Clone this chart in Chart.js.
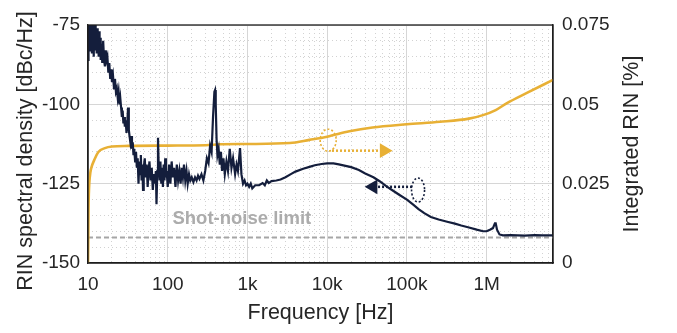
<!DOCTYPE html>
<html>
<head>
<meta charset="utf-8">
<script src="https://cdn.jsdelivr.net/npm/chart.js@4.4.1/dist/chart.umd.min.js"></script>
<style>
  html, body { margin: 0; padding: 0; background: #fff; }
  #wrap { width: 677px; height: 333px; }
</style>
</head>
<body>
<div id="wrap"><canvas id="c" width="677" height="333"></canvas></div>
<script>
// RIN spectral density
const rinFreq = [
  10, 10.15, 10.3, 10.45, 10.6, 10.75, 10.9, 11.05, 11.2, 11.35, 11.5, 11.65, 11.8, 11.95, 12.1, 12.25, 12.4, 12.55, 12.7, 12.85,
  13.0, 13.15, 13.3, 13.45, 13.6, 13.75, 13.9, 14.05, 14.2, 14.35, 14.5, 14.65, 14.8, 15.1, 15.5, 15.9,
  16.3, 16.7, 17.1, 17.5, 18, 18.5, 19, 19.5, 20, 20.6, 21.2, 21.8, 22.4, 23, 23.6, 24.2, 24.8, 25.4, 26, 26.6,
  27.2, 27.8, 28.4, 29, 29.7, 30.4, 31.1, 31.8, 32.5, 33.2, 34, 34.8, 35.6, 36.4, 37.2, 38, 39, 40, 41, 42,
  43, 44, 45, 46, 47, 48, 49, 50, 51.5, 53, 54.5, 56, 57.5, 59, 61, 63, 65, 67, 69, 71,
  72.3, 74, 75.5, 77, 79, 81, 83, 85, 87, 89, 91, 93, 95, 97, 100, 104, 108, 112, 116, 120,
  125, 130, 135, 140, 145, 150, 155, 160, 166, 172, 178, 185, 192, 200, 210, 220, 230, 240, 250, 265,
  280, 295, 310, 325, 340, 355, 370, 385, 392, 400, 410, 420, 435, 450, 465, 480, 500, 520, 545, 570,
  600, 630, 660, 700, 730, 760, 807, 840, 880, 920, 960, 1000, 1050, 1100, 1150, 1250, 1400, 1550, 1650, 1750,
  1850, 2000, 2300, 2600, 3000, 3500, 4000, 5000, 6000, 7000, 8500, 10000, 12000, 14000, 17000, 20000, 25000, 30000, 38000, 46000,
  55000, 65000, 80000, 100000, 120000, 140000, 165000, 200000, 250000, 320000, 400000, 480000, 600000, 750000, 900000, 1000000, 1100000, 1200000, 1270000, 1300000,
  1350000, 1450000, 1600000, 2000000, 3000000, 4000000, 5000000, 6800000
];
const rinDb = [
  -86, -75, -80, -76, -83, -75, -79, -76, -84, -75, -81, -77, -85, -76, -80, -75, -83, -78, -76, -84,
  -79, -76, -82, -78, -85, -77, -80, -84, -79, -86, -80, -85, -81, -87, -80, -86,
  -88, -83, -86, -85, -90, -87, -92, -89, -93, -91, -95, -92, -96, -95, -98, -96, -100, -98, -101, -104,
  -102, -106, -104, -107, -105, -109, -106, -101, -108, -110, -112, -110, -114, -112, -116, -114, -118, -115, -120, -117,
  -125, -118, -122, -116, -124, -119, -127, -120, -117, -123, -119, -126, -121, -118, -124, -120, -127, -122, -125, -121,
  -131.5, -121, -110.5, -119, -124, -118, -125, -120, -126, -119, -124, -117, -123, -121, -126, -119, -125, -118, -123, -120,
  -126, -119, -124, -121, -125, -120, -123, -119, -124, -121, -125, -122, -124, -123, -124.5, -123, -124, -122.5, -123.5, -122,
  -124, -121, -117, -118.5, -113, -115, -104, -96, -95.5, -100, -111, -116, -114, -119, -115, -121, -117, -122, -118, -121,
  -114, -120, -117, -122, -119, -121, -113.8, -122, -125, -124, -125.5, -125, -126, -125, -126.5, -125.5, -125.5, -124.8, -125.5, -124,
  -124.8, -124.2, -124, -123.7, -123, -122, -121.2, -120.3, -119.7, -119.2, -118.8, -118.6, -118.6, -118.9, -119.4, -119.8, -120.7, -121.8, -123, -124.3,
  -125.8, -127, -128.5, -130, -131.6, -133, -134.3, -135.5, -136.3, -137, -137.6, -138.2, -138.8, -139.5, -140, -140, -139.5, -139, -137.5, -137.5,
  -139.5, -141, -141.3, -141.2, -141.4, -141.2, -141.3, -141.3
];

// integrated RIN (%), right axis
const intFreq = [10, 10.08, 10.15, 10.25, 10.4, 10.7, 11.1, 12, 13.5, 16.3, 20, 32, 100, 300, 450, 1000, 3400, 6000, 10000,
  19000, 37000, 100000, 260000, 600000, 900000, 1300000, 1800000, 3200000, 6800000];
const intPct = [0, 0.008, 0.017, 0.022, 0.0255, 0.0285, 0.0303, 0.0325, 0.035, 0.0362, 0.0367, 0.0369, 0.037, 0.0371, 0.0374, 0.0375, 0.0378, 0.0388, 0.0398,
  0.0415, 0.0427, 0.0437, 0.0445, 0.0455, 0.0466, 0.0482, 0.0504, 0.0536, 0.0577];

// shot-noise floor
const shotFreq = [10, 6800000];
const shotDb = [-142, -142];
const shotLabel = 'Shot-noise limit';
const shotLabelFreq = 850;
const shotLabelDb = -136.2;

// annotation rings and arrows (which curve belongs to which axis)
const ringFreq = [10300, 138000];
const ringLevel = [0.0387, -127];
const arrowYellowFreq = [11500, 51800];
const arrowYellowLevel = [0.0354, 0.0354];
const arrowNavyFreq = [116000, 37700];
const arrowNavyLevel = [-126, -126];

// axes
const xMin = 10, xMax = 6800000;
const xTickVals = [10, 100, 1000, 10000, 100000, 1000000];
const xTickLabels = ['10', '100', '1k', '10k', '100k', '1M'];
const xMinorVals = [20, 30, 40, 50, 60, 70, 80, 90, 200, 300, 400, 500, 600, 700, 800, 900,
  2000, 3000, 4000, 5000, 6000, 7000, 8000, 9000, 20000, 30000, 40000, 50000, 60000, 70000, 80000, 90000,
  200000, 300000, 400000, 500000, 600000, 700000, 800000, 900000, 2000000, 3000000, 4000000, 5000000, 6000000];
const yTickVals = [-150, -125, -100, -75];
const yMinorVals = [-145, -140, -135, -130, -120, -115, -110, -105, -95, -90, -85, -80];
const y2TickVals = [0, 0.025, 0.05, 0.075];
const y2TickLabels = ['0', '0.025', '0.05', '0.075'];

const xTitle = 'Frequency [Hz]';
const yTitle = 'RIN spectral density [dBc/Hz]';
const y2Title = 'Integrated RIN [%]';

const navy = '#141e3c';
const yellow = '#e8b035';
const textCol = '#262626';
const fontFam = '"Liberation Sans", Arial, Helvetica, sans-serif';

function pts(xs, ys) {
  return xs.map((x, i) => ({ x: x, y: ys[i] }));
}

const extras = {
  id: 'extras',
  afterDatasetsDraw(chart) {
    const { ctx, chartArea: a, scales } = chart;
    const x = scales.x;
    ctx.save();
    // frame
    ctx.strokeStyle = '#1e1e1e';
    ctx.lineWidth = 1.3;
    ctx.strokeRect(a.left, a.top, a.right - a.left, a.bottom - a.top);
    // dotted rings
    ctx.setLineDash([2, 2]);
    ctx.lineWidth = 1.6;
    ctx.strokeStyle = yellow;
    ctx.beginPath();
    ctx.ellipse(x.getPixelForValue(ringFreq[0]), scales.y2.getPixelForValue(ringLevel[0]), 8, 11, 0, 0, Math.PI * 2);
    ctx.stroke();
    ctx.strokeStyle = navy;
    ctx.beginPath();
    ctx.ellipse(x.getPixelForValue(ringFreq[1]), scales.y.getPixelForValue(ringLevel[1]), 6.5, 12, 0, 0, Math.PI * 2);
    ctx.stroke();
    // shot-noise label
    ctx.setLineDash([]);
    ctx.font = 'bold 18.5px ' + fontFam;
    ctx.fillStyle = '#acacac';
    ctx.textAlign = 'center';
    ctx.textBaseline = 'middle';
    ctx.fillText(shotLabel, x.getPixelForValue(shotLabelFreq), scales.y.getPixelForValue(shotLabelDb));
    ctx.restore();
  },
  afterDraw(chart) {
    // vertical titles, both reading bottom to top
    const { ctx, chartArea: a } = chart;
    ctx.save();
    ctx.font = '21.5px ' + fontFam;
    ctx.fillStyle = textCol;
    ctx.textAlign = 'center';
    ctx.textBaseline = 'middle';
    ctx.translate(26, 151);
    ctx.rotate(-Math.PI / 2);
    ctx.fillText(yTitle, 0, 0);
    ctx.restore();
    ctx.save();
    ctx.font = '21.5px ' + fontFam;
    ctx.fillStyle = textCol;
    ctx.textAlign = 'center';
    ctx.textBaseline = 'middle';
    ctx.translate(632, (a.top + a.bottom) / 2);
    ctx.rotate(-Math.PI / 2);
    ctx.fillText(y2Title, 0, 0);
    ctx.restore();
  }
};

const tickFont = { family: fontFam, size: 19 };

new Chart(document.getElementById('c'), {
  type: 'line',
  data: {
    datasets: [
      {
        data: pts(arrowNavyFreq, arrowNavyLevel),
        yAxisID: 'y',
        borderColor: navy,
        borderWidth: 2.5,
        borderDash: [2, 2],
        pointRadius: [0, 6],
        pointStyle: 'triangle',
        rotation: -90,
        pointBackgroundColor: navy,
        pointBorderColor: navy,
      },
      {
        data: pts(arrowYellowFreq, arrowYellowLevel),
        yAxisID: 'y2',
        borderColor: yellow,
        borderWidth: 2.5,
        borderDash: [2, 2],
        pointRadius: [0, 6],
        pointStyle: 'triangle',
        rotation: 90,
        pointBackgroundColor: yellow,
        pointBorderColor: yellow,
      },
      {
        data: pts(rinFreq, rinDb),
        yAxisID: 'y',
        borderColor: navy,
        borderWidth: 2.2,
        pointRadius: 0,
        tension: 0,
      },
      {
        data: pts(intFreq, intPct),
        yAxisID: 'y2',
        borderColor: yellow,
        borderWidth: 2.6,
        pointRadius: 0,
        cubicInterpolationMode: 'monotone',
      },
      {
        data: pts(shotFreq, shotDb),
        yAxisID: 'y',
        borderColor: '#a6a6a6',
        borderWidth: 2,
        borderDash: [5, 3],
        pointRadius: 0,
      },
    ],
  },
  options: {
    responsive: false,
    animation: false,
    layout: { padding: { top: 25, left: 0, right: 0, bottom: 0 } },
    plugins: {
      legend: { display: false },
      tooltip: { enabled: false },
    },
    scales: {
      x: {
        type: 'logarithmic',
        position: 'bottom',
        min: xMin,
        max: xMax,
        afterBuildTicks: (s) => { s.ticks = xTickVals.map((v) => ({ value: v })); },
        afterFit: (s) => { s.height = 70; },
        ticks: {
          autoSkip: false,
          maxRotation: 0,
          padding: 10,
          color: textCol,
          font: tickFont,
          callback: (v, i) => xTickLabels[i],
        },
        grid: { color: '#d6d6d6', lineWidth: 1, drawTicks: false },
        border: { color: '#1e1e1e', width: 1.3 },
        title: {
          display: true,
          text: xTitle,
          color: textCol,
          font: { family: fontFam, size: 21.5 },
          padding: { top: 0, bottom: 7 },
        },
      },
      xm: {
        type: 'logarithmic',
        position: 'bottom',
        min: xMin,
        max: xMax,
        afterBuildTicks: (s) => { s.ticks = xMinorVals.map((v) => ({ value: v })); },
        afterFit: (s) => { s.height = 0; },
        ticks: { display: false },
        grid: { color: '#d2d2d2', lineWidth: 1, drawTicks: false },
        border: { display: false, dash: [1, 3] },
      },
      y: {
        type: 'linear',
        position: 'left',
        min: -150,
        max: -75,
        afterBuildTicks: (s) => { s.ticks = yTickVals.map((v) => ({ value: v })); },
        afterFit: (s) => { s.width = 88; },
        ticks: {
          padding: 8,
          color: textCol,
          font: tickFont,
          callback: (v) => String(v),
        },
        grid: { color: '#d6d6d6', lineWidth: 1, drawTicks: false },
        border: { color: '#1e1e1e', width: 1.3 },
      },
      ym: {
        type: 'linear',
        position: 'left',
        min: -150,
        max: -75,
        afterBuildTicks: (s) => { s.ticks = yMinorVals.map((v) => ({ value: v })); },
        afterFit: (s) => { s.width = 0; },
        ticks: { display: false },
        grid: { color: '#d2d2d2', lineWidth: 1, drawTicks: false },
        border: { display: false, dash: [1, 3] },
      },
      y2: {
        type: 'linear',
        position: 'right',
        min: 0,
        max: 0.075,
        afterBuildTicks: (s) => { s.ticks = y2TickVals.map((v) => ({ value: v })); },
        afterFit: (s) => { s.width = 124; },
        ticks: {
          padding: 9,
          color: textCol,
          font: tickFont,
          callback: (v, i) => y2TickLabels[i],
        },
        grid: { drawOnChartArea: false, drawTicks: false },
        border: { color: '#1e1e1e', width: 1.3 },
      },
    },
  },
  plugins: [extras],
});
</script>
</body>
</html>
